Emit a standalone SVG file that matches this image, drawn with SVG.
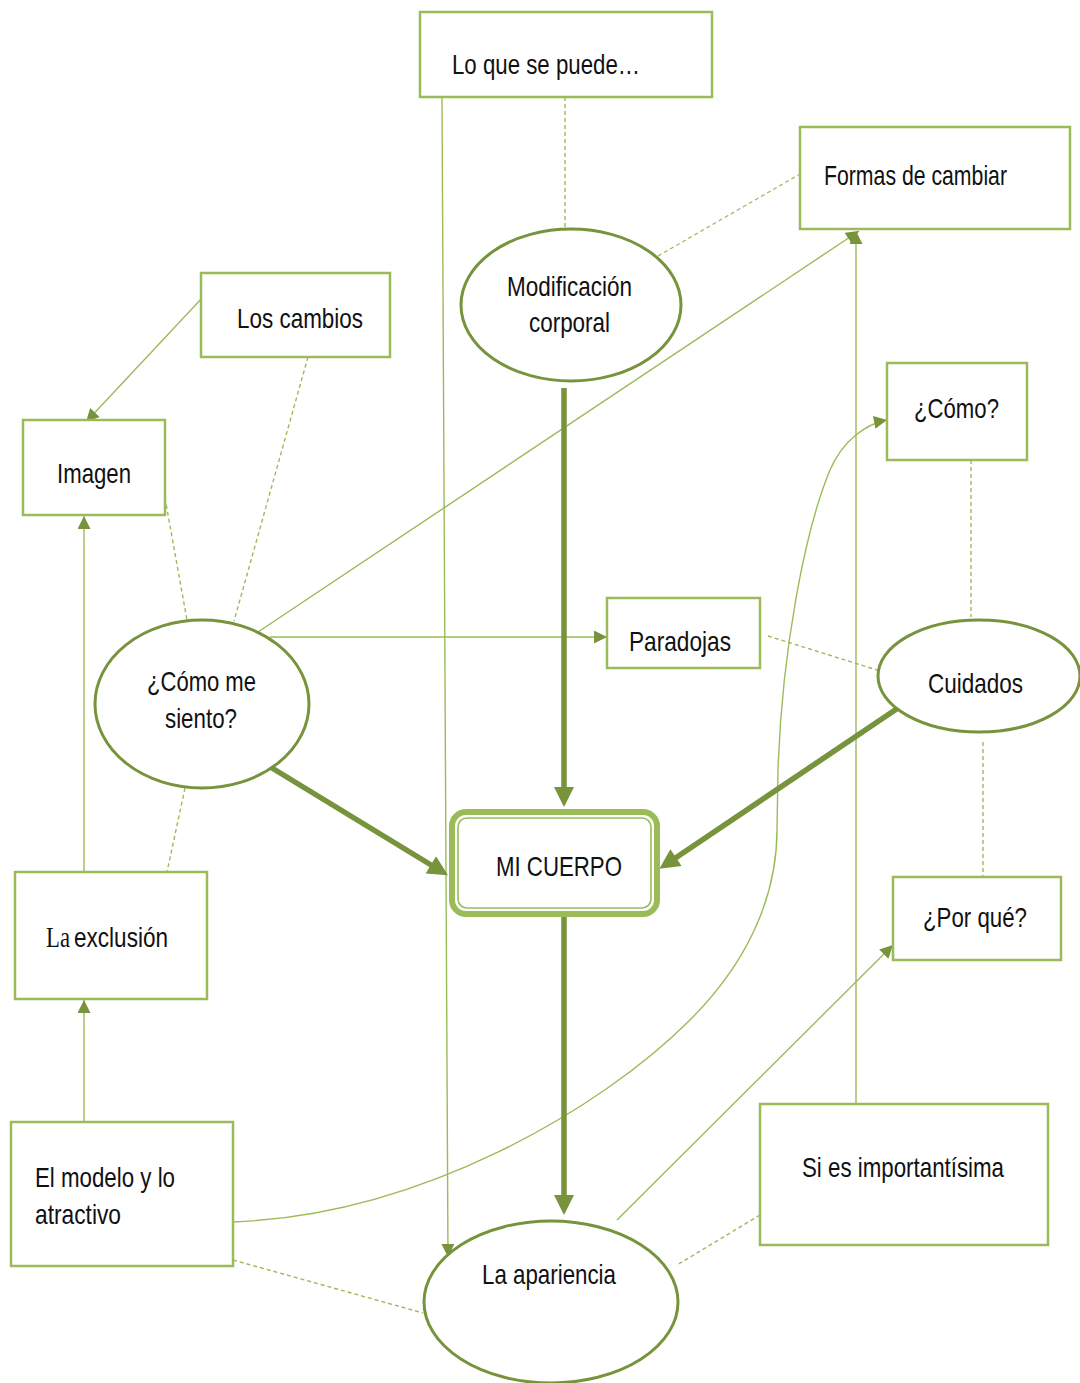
<svg xmlns="http://www.w3.org/2000/svg" width="1080" height="1383" viewBox="0 0 1080 1383">
<style>
.box{fill:#fff;stroke:#9BBB59;stroke-width:2.5}
.ell{fill:#fff;stroke:#77933C;stroke-width:3}
.t{font-family:"Liberation Sans",Arial,sans-serif;font-size:28.5px;fill:#111}
.ts{font-family:"Liberation Serif","Times New Roman",serif;font-size:28.5px;fill:#111}
.thin{fill:none;stroke:#9BBB59;stroke-width:1.4}
.dash{fill:none;stroke:#9BBB59;stroke-width:1.4;stroke-dasharray:4 3}
.thick{fill:none;stroke:#77933C;stroke-width:5.5}
</style>
<defs>
<marker id="ah" viewBox="0 0 10 10" refX="10" refY="5" markerUnits="userSpaceOnUse" markerWidth="15" markerHeight="13" orient="auto">
<path d="M0,0 L10,5 L0,10 z" fill="#77933C"/>
</marker>
<marker id="ahb" viewBox="0 0 10 10" refX="3" refY="5" markerUnits="userSpaceOnUse" markerWidth="22" markerHeight="20" orient="auto">
<path d="M0,0 L10,5 L0,10 z" fill="#77933C"/>
</marker>
</defs>
<rect width="1080" height="1383" fill="#fff"/>

<g id="connectors">
<line class="dash" x1="565" y1="97" x2="565" y2="229"/>
<line class="dash" x1="658" y1="256" x2="800" y2="174"/>
<line class="dash" x1="308" y1="357" x2="234" y2="621"/>
<line class="dash" x1="165" y1="498" x2="187" y2="620"/>
<line class="dash" x1="185" y1="788" x2="167" y2="872"/>
<line class="dash" x1="971" y1="460" x2="971" y2="617"/>
<line class="dash" x1="768" y1="636" x2="877" y2="670"/>
<line class="dash" x1="983" y1="742" x2="983" y2="877"/>
<line class="dash" x1="233" y1="1260" x2="423" y2="1313"/>
<line class="dash" x1="760" y1="1215" x2="677" y2="1265"/>

<line class="thin" x1="203" y1="297" x2="86" y2="422" marker-end="url(#ah)"/>
<line class="thin" x1="84" y1="872" x2="84" y2="516" marker-end="url(#ah)"/>
<line class="thin" x1="84" y1="1122" x2="84" y2="1000" marker-end="url(#ah)"/>
<line class="thin" x1="442" y1="97" x2="448" y2="1257" marker-end="url(#ah)"/>
<line class="thin" x1="258" y1="632" x2="859" y2="231" marker-end="url(#ah)"/>
<line class="thin" x1="270" y1="637" x2="607" y2="637" marker-end="url(#ah)"/>
<line class="thin" x1="856" y1="1104" x2="856" y2="231" marker-end="url(#ah)"/>
<line class="thin" x1="617" y1="1220" x2="893" y2="945" marker-end="url(#ah)"/>
<path class="thin" d="M233,1222 C420,1215 600,1110 690,1020 C760,950 777,880 777,830 L778,770 C782,650 805,530 830,470 C843,440 866,424 887,420" marker-end="url(#ah)"/>

<line class="thick" x1="564" y1="388" x2="564" y2="793" marker-end="url(#ahb)"/>
<line class="thick" x1="564" y1="917" x2="564" y2="1201" marker-end="url(#ahb)"/>
<line class="thick" x1="272" y1="768" x2="436" y2="868" marker-end="url(#ahb)"/>
<line class="thick" x1="901" y1="706" x2="671" y2="861" marker-end="url(#ahb)"/>
</g>

<g id="n-lo-que-se-puede">
<rect class="box" x="420" y="12" width="292" height="85"/>
<text class="t" x="452" y="74" textLength="188" lengthAdjust="spacingAndGlyphs">Lo que se puede…</text>
</g>
<g id="n-formas-de-cambiar">
<rect class="box" x="800" y="127" width="270" height="102"/>
<text class="t" x="824" y="185" textLength="183" lengthAdjust="spacingAndGlyphs">Formas de cambiar</text>
</g>
<g id="n-los-cambios">
<rect class="box" x="201" y="273" width="189" height="84"/>
<text class="t" x="237" y="328" textLength="126" lengthAdjust="spacingAndGlyphs">Los cambios</text>
</g>
<g id="n-imagen">
<rect class="box" x="23" y="420" width="142" height="95"/>
<text class="t" x="57" y="483" textLength="74" lengthAdjust="spacingAndGlyphs">Imagen</text>
</g>
<g id="n-modificacion">
<ellipse class="ell" cx="571" cy="305" rx="110" ry="76"/>
<text class="t" x="507" y="296" textLength="125" lengthAdjust="spacingAndGlyphs">Modificación</text>
<text class="t" x="529" y="332" textLength="81" lengthAdjust="spacingAndGlyphs">corporal</text>
</g>
<g id="n-como">
<rect class="box" x="887" y="363" width="140" height="97"/>
<text class="t" x="914" y="418" textLength="85" lengthAdjust="spacingAndGlyphs">¿Cómo?</text>
</g>
<g id="n-como-me-siento">
<ellipse class="ell" cx="202" cy="704" rx="107" ry="84"/>
<text class="t" x="147" y="691" textLength="109" lengthAdjust="spacingAndGlyphs">¿Cómo me</text>
<text class="t" x="165" y="728" textLength="72" lengthAdjust="spacingAndGlyphs">siento?</text>
</g>
<g id="n-paradojas">
<rect class="box" x="607" y="598" width="153" height="70"/>
<text class="t" x="629" y="651" textLength="102" lengthAdjust="spacingAndGlyphs">Paradojas</text>
</g>
<g id="n-cuidados">
<ellipse class="ell" cx="979" cy="676" rx="101" ry="56"/>
<text class="t" x="928" y="693" textLength="95" lengthAdjust="spacingAndGlyphs">Cuidados</text>
</g>
<g id="n-mi-cuerpo">
<rect x="452" y="812" width="205" height="102" rx="14" fill="#fff" stroke="#9BBB59" stroke-width="6"/>
<rect x="458" y="818" width="193" height="90" rx="9" fill="none" stroke="#9BBB59" stroke-width="1.6"/>
<text class="t" x="496" y="876" textLength="126" lengthAdjust="spacingAndGlyphs">MI CUERPO</text>
</g>
<g id="n-la-exclusion">
<rect class="box" x="15" y="872" width="192" height="127"/>
<text class="ts" x="46" y="947" textLength="24" lengthAdjust="spacingAndGlyphs">La</text>
<text class="t" x="74" y="947" textLength="94" lengthAdjust="spacingAndGlyphs">exclusión</text>
</g>
<g id="n-por-que">
<rect class="box" x="893" y="877" width="168" height="83"/>
<text class="t" x="923" y="927" textLength="104" lengthAdjust="spacingAndGlyphs">¿Por qué?</text>
</g>
<g id="n-el-modelo">
<rect class="box" x="11" y="1122" width="222" height="144"/>
<text class="t" x="35" y="1187" textLength="140" lengthAdjust="spacingAndGlyphs">El modelo y lo</text>
<text class="t" x="35" y="1224" textLength="86" lengthAdjust="spacingAndGlyphs">atractivo</text>
</g>
<g id="n-si-es-importantisima">
<rect class="box" x="760" y="1104" width="288" height="141"/>
<text class="t" x="802" y="1177" textLength="202" lengthAdjust="spacingAndGlyphs">Si es importantísima</text>
</g>
<g id="n-la-apariencia">
<ellipse class="ell" cx="551" cy="1302" rx="127" ry="81"/>
<text class="t" x="482" y="1284" textLength="134" lengthAdjust="spacingAndGlyphs">La apariencia</text>
</g>
</svg>
